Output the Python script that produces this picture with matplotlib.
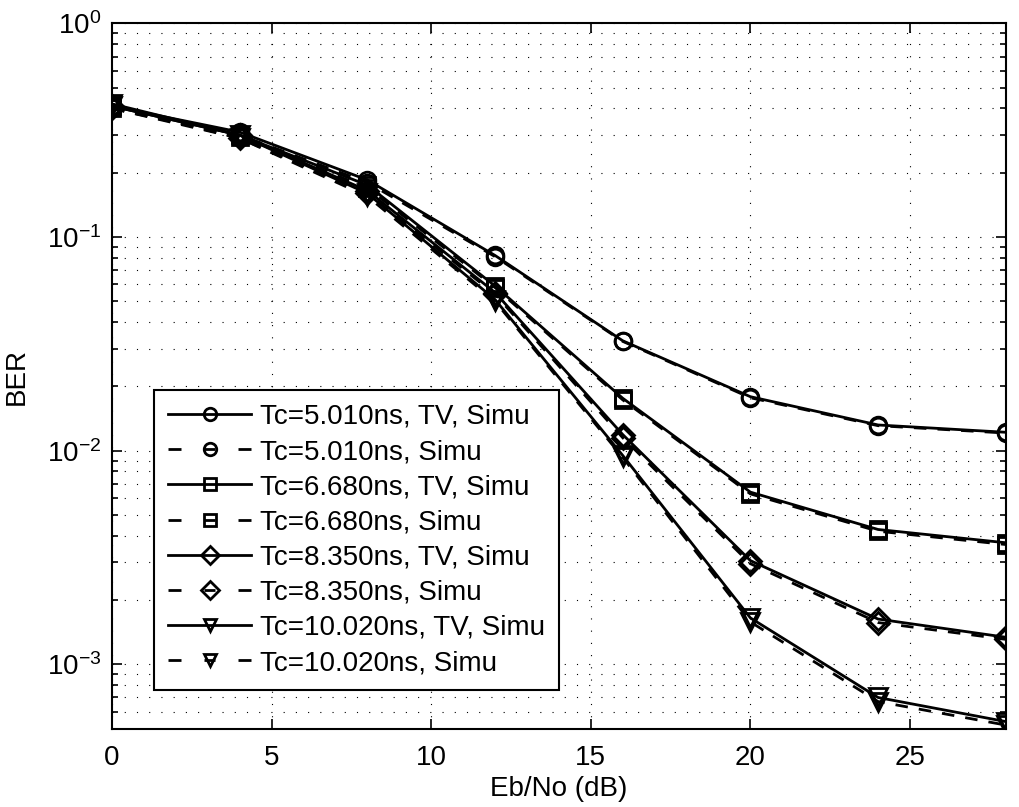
import matplotlib.pyplot as plt

plt.rcParams['font.family'] = ['Liberation Sans', 'DejaVu Sans']
plt.rcParams['mathtext.fontset'] = 'custom'
plt.rcParams['mathtext.rm'] = 'Liberation Sans'
plt.rcParams['mathtext.it'] = 'Liberation Sans'
plt.rcParams['mathtext.bf'] = 'Liberation Sans'

# Eb/No axis (dB)
ebno = [0, 4, 8, 12, 16, 20, 24, 28]

# BER curves, "TV, Simu" (solid) and "Simu" (dashed)
ber_5010_tv = [0.41, 0.31, 0.185, 0.082, 0.0327, 0.0179, 0.0132, 0.0122]
ber_5010 = [0.40, 0.30, 0.180, 0.081, 0.0325, 0.0177, 0.0131, 0.0121]
ber_6680_tv = [0.41, 0.30, 0.175, 0.059, 0.0176, 0.00640, 0.00428, 0.00371]
ber_6680 = [0.40, 0.295, 0.170, 0.058, 0.0173, 0.00628, 0.00420, 0.00364]
ber_8350_tv = [0.41, 0.30, 0.165, 0.055, 0.0119, 0.00306, 0.00163, 0.00134]
ber_8350 = [0.40, 0.29, 0.160, 0.054, 0.0115, 0.00296, 0.00157, 0.00131]
ber_10020_tv = [0.42, 0.30, 0.160, 0.051, 0.0095, 0.00165, 0.00070, 0.00054]
ber_10020 = [0.41, 0.29, 0.155, 0.050, 0.0093, 0.00158, 0.00067, 0.00052]

labels = ['Tc=5.010ns, TV, Simu', 'Tc=5.010ns, Simu',
          'Tc=6.680ns, TV, Simu', 'Tc=6.680ns, Simu',
          'Tc=8.350ns, TV, Simu', 'Tc=8.350ns, Simu',
          'Tc=10.020ns, TV, Simu', 'Tc=10.020ns, Simu']
series = [ber_5010_tv, ber_5010, ber_6680_tv, ber_6680,
          ber_8350_tv, ber_8350, ber_10020_tv, ber_10020]
markers = ['o', 'o', 's', 's', 'D', 'D', 'v', 'v']
msizes = [12, 12, 11, 11, 11, 11, 13, 13]

fig = plt.figure(figsize=(10.19, 8.07), dpi=100)
ax = fig.add_axes([0.110, 0.097, 0.877, 0.874])

for i, (ber, lab, mk, ms) in enumerate(zip(series, labels, markers, msizes)):
    ls = '-' if i % 2 == 0 else (0, (4.5, 4))
    ax.semilogy(ebno, ber, color='black', linestyle=ls, linewidth=2,
                marker=mk, markersize=ms, markeredgewidth=2,
                fillstyle='none', label=lab)

ax.set_xlim(0, 28)
ax.set_ylim(5e-4, 1)
ax.set_xticks([0, 5, 10, 15, 20, 25])
ax.grid(True, axis='x', which='major', linestyle=(0, (1, 10)),
        color='black', linewidth=0.8)
ax.grid(True, axis='y', which='both', linestyle=(0, (1, 10)),
        color='black', linewidth=0.8)
ax.tick_params(which='both', direction='in', top=True, right=True,
               labelsize=20, width=1.2)
ax.tick_params(which='major', length=7, pad=8)
ax.tick_params(axis='x', which='major', pad=12)
ax.tick_params(which='minor', length=4)
for sp in ax.spines.values():
    sp.set_linewidth(1.5)

ax.set_xlabel('Eb/No (dB)', fontsize=20, labelpad=3)
ax.set_ylabel('BER', fontsize=20, labelpad=12)

leg = ax.legend(loc='lower left', bbox_to_anchor=(0.047, 0.055),
                fontsize=20, handlelength=3.0, handletextpad=0.3,
                borderpad=0.5, labelspacing=0.33, fancybox=False,
                framealpha=1, edgecolor='black', borderaxespad=0)
leg.get_frame().set_linewidth(1.5)
for i, h in enumerate(leg.legend_handles):
    h.set_markersize(9)
    if i % 2 == 1:
        # short dash, marker, short dash as in the legend of the original
        h.set_linestyle((0, (4.68, 8.28, 3.96, 8.28)))

fig.savefig('out.png', dpi=100)
